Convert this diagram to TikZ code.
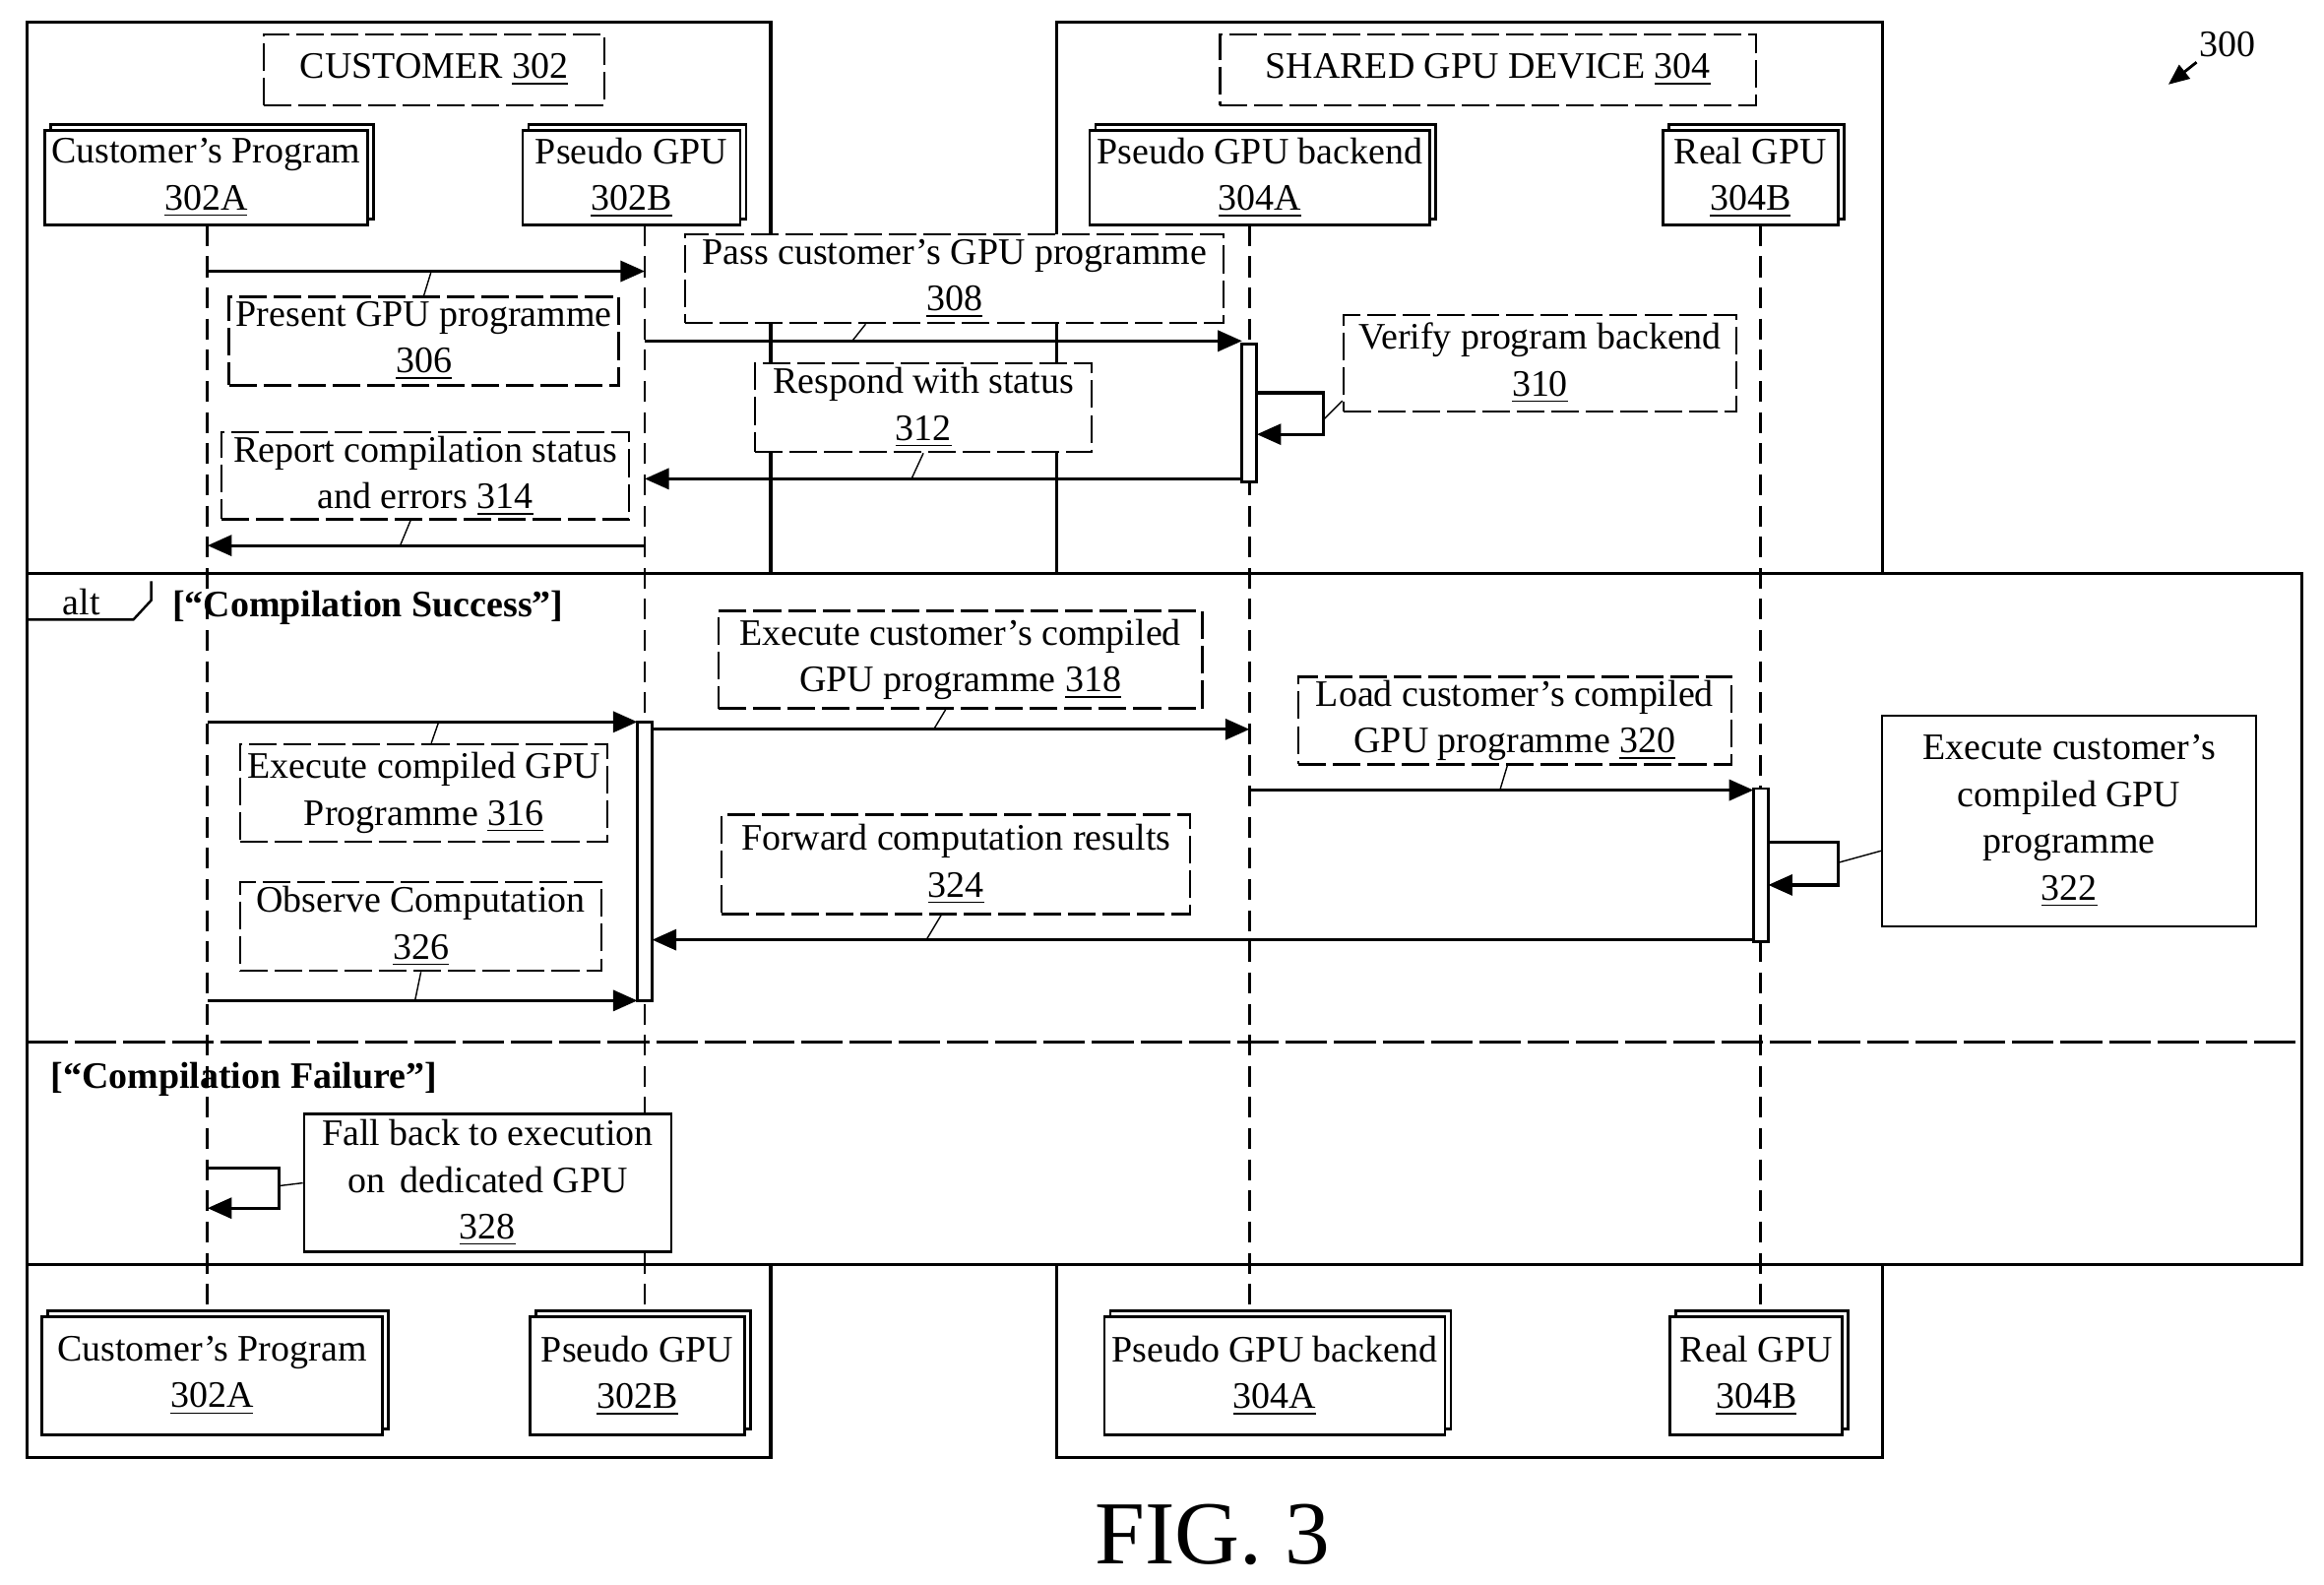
\documentclass[tikz,border=0pt]{standalone}
\usepackage{fontspec}
\setmainfont{Liberation Serif}
\usetikzlibrary{arrows.meta,shadows}
\tikzset{
  frame/.style={draw, line width=0.9pt},
  head/.style={draw, fill=white, line width=0.8pt, align=center, inner sep=1pt,
    minimum height=0.96cm, copy shadow={shadow xshift=0.06cm, shadow yshift=0.06cm}},
  lbl/.style={draw, dashed, dash pattern=on 8pt off 2pt, fill=white, line width=0.7pt, align=center, inner sep=1pt, minimum height=0.9cm},
  slbl/.style={draw, fill=white, line width=0.7pt, align=center, inner sep=1pt},
  life/.style={dash pattern=on 6pt off 3pt, line width=0.8pt},
  msg/.style={line width=0.9pt, -{Triangle[length=7pt,width=6pt]}},
  tick/.style={line width=0.4pt},
  bar/.style={draw, fill=white, line width=0.8pt}
}
\begin{document}
\begin{tikzpicture}[x=0.01506cm, y=-0.01506cm, font=\fontsize{10.8}{13.5}\selectfont]
\useasboundingbox (0,0) rectangle (1568,1069);
% frames of the two parties
\draw[frame] (18,15) rectangle (520,983);
\draw[frame] (713,15) rectangle (1270,983);
\node[lbl, minimum width=3.46cm, minimum height=0.72cm] (cust) at (293,47) {CUSTOMER \underline{302}};
\node[lbl, minimum width=5.45cm, minimum height=0.72cm] (dev) at (1004,47) {SHARED GPU DEVICE \underline{304}};
% alt fragment
\draw[frame, fill=white] (18,387) rectangle (1553,853);
\draw[line width=0.7pt] (18,418) -- (90,418) -- (102,405) -- (102,392);
\node (alt) at (55,406) {alt};
\node[anchor=west, font=\fontsize{10.8}{13.5}\selectfont\bfseries] (g1) at (108,410) {[“Compilation Success”]};
\draw[line width=0.7pt, dash pattern=on 12pt off 2pt] (18,703) -- (1553,703);
\node[anchor=west, font=\fontsize{10.8}{13.5}\selectfont\bfseries] (g2) at (26,728) {[“Compilation Failure”]};
% lifeline heads
\node[head, minimum width=3.28cm] (cpT) at (139,120) {Customer’s Program\\\underline{302A}};
\node[head, minimum width=2.21cm] (pgT) at (426,120) {Pseudo GPU\\\underline{302B}};
\node[head, minimum width=3.46cm] (pbT) at (850,120) {Pseudo GPU backend\\\underline{304A}};
\node[head, minimum width=1.78cm] (rgT) at (1181,120) {Real GPU\\\underline{304B}};
\node[head, minimum width=3.46cm, minimum height=1.2cm] (cpB) at (143,928) {Customer’s Program\\\underline{302A}};
\node[head, minimum width=2.18cm, minimum height=1.2cm] (pgB) at (430,928) {Pseudo GPU\\\underline{302B}};
\node[head, minimum width=3.46cm, minimum height=1.2cm] (pbB) at (860,928) {Pseudo GPU backend\\\underline{304A}};
\node[head, minimum width=1.75cm, minimum height=1.2cm] (rgB) at (1185,928) {Real GPU\\\underline{304B}};
% lifelines
\draw[life] (140,152) -- (140,888);
\draw[life] (435,152) -- (435,888);
\draw[life] (843,152) -- (843,888);
\draw[life] (1188,152) -- (1188,888);
% activations
\draw[bar] (838,232) rectangle (848,325);
\draw[bar] (430,487) rectangle (440,675);
\draw[bar] (1183,532) rectangle (1193,635);
% messages
\draw[msg] (140,183) -- (435,183);
\draw[msg] (435,230) -- (838,230);
\draw[msg] (848,265) -- (893,265) -- (893,293) -- (848,293);
\draw[msg] (838,323) -- (435,323);
\draw[msg] (435,368) -- (140,368);
\draw[msg] (140,487) -- (430,487);
\draw[msg] (440,492) -- (843,492);
\draw[msg] (843,533) -- (1183,533);
\draw[msg] (1193,568) -- (1240,568) -- (1240,597) -- (1193,597);
\draw[msg] (1183,634) -- (440,634);
\draw[msg] (140,675) -- (430,675);
\draw[msg] (140,788) -- (188,788) -- (188,815) -- (140,815);
% message labels
\node[lbl, minimum width=3.96cm] (m306) at (286,230) {Present GPU programme\\\underline{306}};
\node[lbl, minimum width=5.47cm] (m308) at (644,188) {Pass customer’s GPU programme\\\underline{308}};
\node[lbl, minimum width=3.99cm, minimum height=0.98cm] (m310) at (1039,245) {Verify program backend\\\underline{310}};
\node[lbl, minimum width=3.42cm] (m312) at (623,275) {Respond with status\\\underline{312}};
\node[lbl, minimum width=4.14cm, minimum height=0.87cm] (m314) at (287,321) {Report compilation status\\and errors \underline{314}};
\node[lbl, minimum width=3.73cm, minimum height=0.99cm] (m316) at (286,535) {Execute compiled GPU\\Programme \underline{316}};
\node[lbl, minimum width=4.92cm, minimum height=0.99cm] (m318) at (648,445) {Execute customer’s compiled\\GPU programme \underline{318}};
\node[lbl, minimum width=4.40cm, minimum height=0.89cm] (m320) at (1022,486) {Load customer’s compiled\\GPU programme \underline{320}};
\node[slbl, minimum width=3.80cm, minimum height=2.14cm] (m322) at (1396,554) {Execute customer’s\\compiled GPU\\programme\\\underline{322}};
\node[lbl, minimum width=4.76cm, minimum height=1.01cm] (m324) at (645,583) {Forward computation results\\\underline{324}};
\node[lbl, minimum width=3.67cm] (m326) at (284,625) {Observe Computation\\\underline{326}};
\node[slbl, minimum width=3.73cm, minimum height=1.40cm] (m328) at (329,798) {Fall back to execution\\on\, dedicated GPU\\\underline{328}};
% leader ticks
\draw[tick] (m306.north) -- (291,183);
\draw[tick] (m308.south) ++(-60,0) -- (575,230);
\draw[tick] (m310.south west) ++(0,-8) -- (893,283);
\draw[tick] (m312.south) -- (615,323);
\draw[tick] (m314.south) ++(-10,0) -- (270,368);
\draw[tick] (m316.north) ++(5,0) -- (296,487);
\draw[tick] (m318.south) ++(-10,0) -- (630,492);
\draw[tick] (m320.south) ++(-5,0) -- (1012,533);
\draw[tick] (m322.west) ++(0,20) -- (1240,582);
\draw[tick] (m324.south) ++(-10,0) -- (625,634);
\draw[tick] (m326.south) -- (280,675);
\draw[tick] (m328.west) -- (188,800);
% figure labels
\node (ref) at (1503,30) {300};
\draw[-{Triangle[length=6pt,width=5pt]}, line width=0.8pt] (1482,42) -- (1463,57);
\node[font=\fontsize{26}{30}\selectfont] (fig) at (818,1035) {FIG. 3};
\end{tikzpicture}
\end{document}
